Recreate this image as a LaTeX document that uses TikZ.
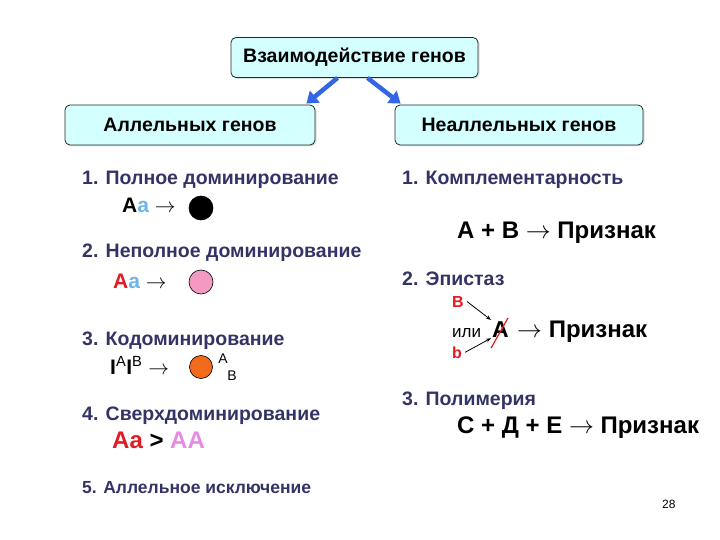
\documentclass[tikz,border=0pt]{standalone}
\usepackage{fontspec}
\setmainfont{Liberation Sans}
\usetikzlibrary{arrows.meta,positioning,calc,shadows}
\definecolor{ink}{HTML}{333366}
\definecolor{boxfill}{HTML}{D4FFFF}
\definecolor{arrblue}{HTML}{3366E6}
\definecolor{lblue}{HTML}{6FB4E8}
\definecolor{gred}{HTML}{E01B22}
\definecolor{gpink}{HTML}{F49AC2}
\definecolor{gorange}{HTML}{F26B1D}
\definecolor{gviolet}{HTML}{E68AE6}
\tikzset{
  genbox/.style={draw=black!85,fill=boxfill,rounded corners=5pt,line width=0.8pt,minimum height=40pt,
    font=\fontsize{19.5}{22}\selectfont\bfseries,drop shadow={shadow xshift=1.5pt,shadow yshift=-1.5pt,opacity=0.25}},
  head/.style={anchor=base west,inner sep=0pt,text=ink,font=\fontsize{19.5}{22}\selectfont\bfseries},
  expr/.style={anchor=base west,inner sep=0pt,font=\fontsize{21}{24}\selectfont\bfseries},
  bigexpr/.style={expr,font=\fontsize{24}{28}\selectfont\bfseries},
  redgene/.style={anchor=base west,inner sep=0pt,text=gred,font=\fontsize{16}{18}\selectfont\bfseries},
  blob/.style={circle,minimum size=24pt,inner sep=0pt,draw=black,line width=0.6pt},
  bluearr/.style={-{Triangle[length=11pt,width=15pt]},line width=4.5pt,color=arrblue},
  tinyarr/.style={-{Stealth[length=5pt]},line width=0.8pt},
}
\begin{document}
\begin{tikzpicture}[x=1pt,y=-1pt]
\useasboundingbox (0,0) rectangle (720,540);
% boxes
\node[genbox,minimum width=247pt] (top) at (354.5,57.5) {Взаимодействие генов};
\node[genbox,minimum width=250pt] (allel) at (190,125) {Аллельных генов};
\node[genbox,minimum width=248pt] (nonallel) at (519,125) {Неаллельных генов};
\draw[bluearr] ($(top.south)+(-17,0)$) -- ($(allel.north east)+(-9,-1)$);
\draw[bluearr] ($(top.south)+(13,0)$) -- ($(nonallel.north west)+(6,-1)$);
% allelic
\node[head] (h1) at (82,185) {1. Полное доминирование};
\node[expr] (ex1) at (122,212) {A\textcolor{lblue}{a} \textmd{$\rightarrow$}};
\node[blob,fill=black] (c1) at (201,208) {};
\node[head] (h2) at (82,258) {2. Неполное доминирование};
\node[expr] (ex2) at (113,288) {\textcolor{gred}{A}\textcolor{lblue}{a} \textmd{$\rightarrow$}};
\node[blob,fill=gpink] (c2) at (201,282) {};
\node[head] (h3) at (82,345) {3. Кодоминирование};
\node[anchor=base west,inner sep=0pt,font=\fontsize{21}{24}\selectfont] (ex3) at (110,374) {\textbf{I}\textsuperscript{A}\textbf{I}\textsuperscript{B} $\rightarrow$};
\node[blob,fill=gorange,minimum size=23pt] (c3) at (201,367) {};
\node[font=\fontsize{14}{16}\selectfont,inner sep=0pt] (ca) at (223,359) {A};
\node[font=\fontsize{14}{16}\selectfont,inner sep=0pt] (cb) at (232,376) {B};
\node[head] (h4) at (82,420) {4. Сверхдоминирование};
\node[bigexpr] (ex4) at (112,448) {\textcolor{gred}{Aa} > \textcolor{gviolet}{AA}};
\node[head,font=\fontsize{17.5}{20}\selectfont\bfseries] (h5) at (82,493) {5. Аллельное исключение};
% non-allelic
\node[head] (k1) at (402,185) {1. Комплементарность};
\node[bigexpr] (ek1) at (457,238) {A + B \textmd{$\rightarrow$} Признак};
\node[head] (k2) at (402,285) {2. Эпистаз};
\node[redgene] (eb) at (452,307) {B};
\node[anchor=base west,inner sep=0pt,font=\fontsize{17}{19}\selectfont] (ili) at (452,337) {или};
\node[anchor=base west,inner sep=1pt,font=\fontsize{23}{26}\selectfont\bfseries] (ea) at (491,337) {A};
\node[bigexpr] (ek2) at (517,337) {\textmd{$\rightarrow$} Признак};
\node[redgene] (esb) at (452,358) {b};
\draw[tinyarr] ($(eb.east)+(3,0)$) -- (ea.north west);
\draw[tinyarr] ($(esb.east)+(3,0)$) -- (ea.south west);
\draw[gred,line width=1.2pt] ($(ea.south west)+(0,10)$) -- ($(ea.north east)+(-2,-2)$);
\node[head] (k3) at (402,405) {3. Полимерия};
\node[bigexpr] (ek3) at (457,433) {C + Д + E \textmd{$\rightarrow$} Признак};
\node[anchor=base west,inner sep=0pt,font=\fontsize{12}{14}\selectfont] (pg) at (662,508) {28};
\end{tikzpicture}
\end{document}
